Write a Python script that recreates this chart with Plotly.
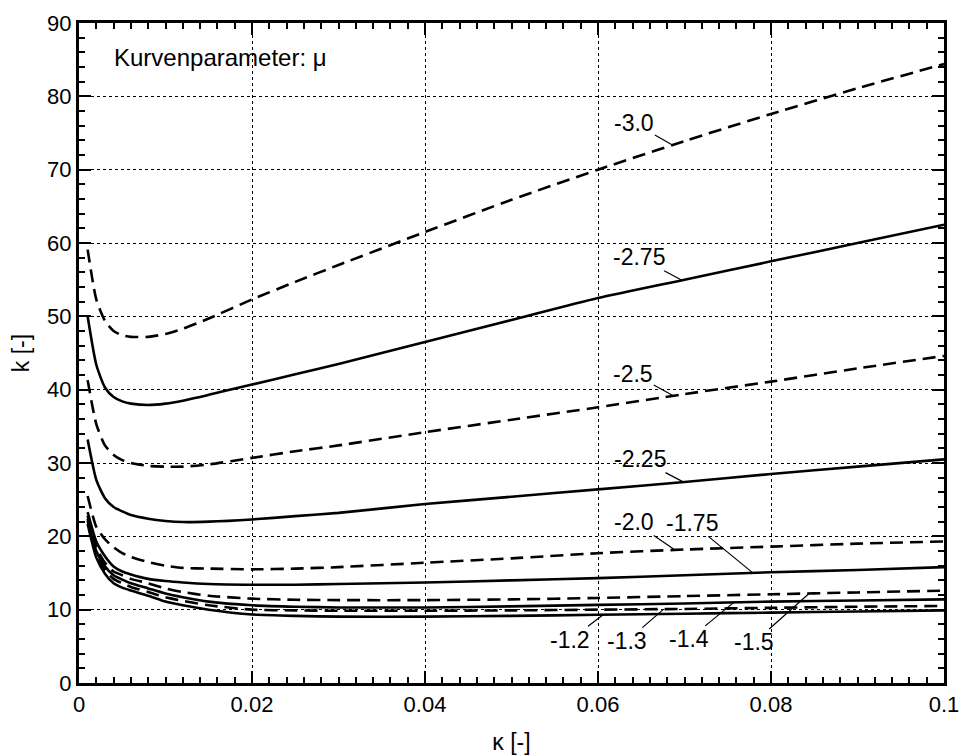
import numpy as np
import plotly.graph_objects as go

# ---- data ----
kappa = [0.001, 0.002, 0.003, 0.004, 0.005, 0.006, 0.008, 0.010, 0.012, 0.015,
         0.02, 0.025, 0.03, 0.04, 0.05, 0.06, 0.07, 0.08, 0.09, 0.1]

mu_labels = ["-3.0", "-2.75", "-2.5", "-2.25", "-2.0", "-1.75", "-1.5", "-1.4", "-1.3", "-1.2"]

k_m300 = [59.1, 52.3, 49.4, 48.0, 47.4, 47.2, 47.2, 47.6, 48.3, 49.7,
          52.3, 54.7, 57.0, 61.5, 65.9, 70.0, 73.9, 77.6, 81.1, 84.4]
k_m275 = [50.0, 43.4, 40.3, 39.0, 38.4, 38.1, 37.9, 38.1, 38.5, 39.3,
          40.7, 42.1, 43.5, 46.5, 49.5, 52.5, 55.0, 57.5, 60.0, 62.5]
k_m250 = [41.3, 35.3, 32.4, 31.1, 30.4, 30.0, 29.6, 29.5, 29.5, 29.8,
          30.7, 31.6, 32.4, 34.2, 35.9, 37.6, 39.4, 41.1, 42.9, 44.6]
k_m225 = [33.2, 27.7, 25.2, 24.0, 23.4, 22.9, 22.4, 22.1, 21.95, 22.0,
          22.3, 22.75, 23.2, 24.4, 25.4, 26.4, 27.4, 28.5, 29.5, 30.5]
k_m200 = [25.5, 21.3, 19.6, 18.5, 17.7, 17.2, 16.5, 16.0, 15.7, 15.6,
          15.5, 15.6, 15.8, 16.4, 17.0, 17.7, 18.2, 18.6, 19.0, 19.3]
k_m175 = [23.3, 19.3, 17.3, 15.9, 15.2, 14.8, 14.2, 13.9, 13.7, 13.5,
          13.4, 13.4, 13.5, 13.7, 14.0, 14.3, 14.7, 15.1, 15.4, 15.8]
k_m150 = [22.8, 18.5, 16.4, 15.2, 14.7, 14.2, 13.6, 12.9, 12.4, 11.9,
          11.5, 11.35, 11.3, 11.3, 11.4, 11.6, 11.85, 12.1, 12.35, 12.6]
k_m140 = [22.4, 18.0, 15.9, 14.7, 14.1, 13.6, 12.9, 12.2, 11.7, 11.1,
          10.6, 10.4, 10.3, 10.3, 10.45, 10.65, 10.85, 11.1, 11.25, 11.4]
k_m130 = [22.1, 17.6, 15.4, 14.2, 13.6, 13.1, 12.4, 11.7, 11.2, 10.6,
          10.0, 9.9, 9.85, 9.85, 9.9, 10.0, 10.1, 10.25, 10.4, 10.5]
k_m120 = [21.7, 17.1, 14.9, 13.6, 13.0, 12.6, 11.9, 11.1, 10.6, 10.0,
          9.35, 9.15, 9.05, 9.05, 9.15, 9.3, 9.45, 9.6, 9.75, 9.9]

series = [k_m300, k_m275, k_m250, k_m225, k_m200, k_m175, k_m150, k_m140, k_m130, k_m120]
dashed = [True, False, True, False, True, False, True, False, True, False]

# label leader points (kappa where the leader touches the curve)
label_kappa = [0.0686, 0.0697, 0.0687, 0.0699, 0.0689, 0.0779, 0.0844, 0.0757, 0.0676, 0.0606]
# text offsets in pixels relative to the leader point
label_dx = [-38, -43, -40, -44, -41, -61, -55, -45, -37, -33]
label_dy = [-22, -23, -22, -23, -28, -50, 49, 37, 32, 25]

FONT = "Liberation Sans, Arial, sans-serif"

fig = go.Figure()
for lab, ys, d in zip(mu_labels, series, dashed):
    fig.add_trace(go.Scatter(
        x=kappa, y=ys, mode="lines", name=lab,
        line=dict(color="black", width=2.6, dash="13px,7px" if d else "solid",
                  shape="spline", smoothing=0.6),
        showlegend=False, hoverinfo="skip"))

for lab, ys, lk, dx, dy in zip(mu_labels, series, label_kappa, label_dx, label_dy):
    yk = float(np.interp(lk, kappa, ys))
    fig.add_annotation(x=lk, y=yk, xref="x", yref="y", text=lab,
                       showarrow=True, arrowhead=0, arrowwidth=1.2, arrowcolor="black",
                       ax=dx, ay=dy, font=dict(family=FONT, size=23, color="black"),
                       borderpad=0)

fig.add_annotation(x=0.0378, y=0.9476, xref="paper", yref="paper",
                   text="Kurvenparameter: μ", showarrow=False,
                   xanchor="left", yanchor="middle",
                   font=dict(family=FONT, size=24, color="black"))

axis_common = dict(
    showline=True, linecolor="black", linewidth=3, mirror="allticks",
    ticks="inside", ticklen=12, tickwidth=2, tickcolor="black",
    showgrid=True, gridcolor="black", gridwidth=1, griddash="dot",
    zeroline=False, tickfont=dict(family=FONT, size=22, color="black"),
    automargin=False,
)

fig.update_xaxes(range=[0, 0.1], dtick=0.02, tick0=0,
                 minor=dict(dtick=0.002, ticks="inside", ticklen=6, tickwidth=2,
                            tickcolor="black", showgrid=False),
                 title=dict(text="κ [-]", font=dict(family=FONT, size=23, color="black"),
                            standoff=18),
                 **axis_common)
fig.update_yaxes(range=[0, 90], dtick=10, tick0=0,
                 minor=dict(dtick=2, ticks="inside", ticklen=6, tickwidth=2,
                            tickcolor="black", showgrid=False),
                 title=dict(text="k [-]", font=dict(family=FONT, size=23, color="black"),
                            standoff=12),
                 **axis_common)

fig.update_layout(
    width=962, height=756,
    margin=dict(l=79, r=18, t=23, b=73, pad=0),
    plot_bgcolor="white", paper_bgcolor="white",
)

fig.write_html("out.html")
